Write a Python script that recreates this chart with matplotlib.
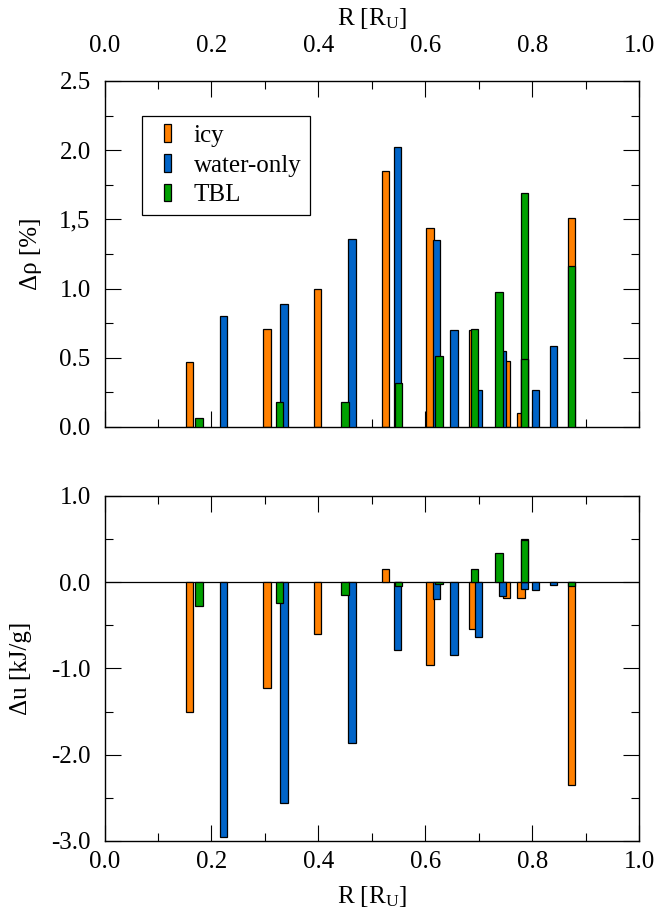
import matplotlib
matplotlib.use('Agg')
import matplotlib.pyplot as plt
from matplotlib.patches import Rectangle
from matplotlib.legend_handler import HandlerPatch
from matplotlib.ticker import MultipleLocator

plt.rcParams['font.family'] = ['Liberation Serif', 'DejaVu Serif']
plt.rcParams['mathtext.fontset'] = 'custom'
plt.rcParams['mathtext.rm'] = 'Liberation Serif'
plt.rcParams['mathtext.it'] = 'Liberation Serif:italic'

# ---------------- data ----------------
series_names = ['icy', 'water-only', 'TBL']
series_colors = ['#FF8000', '#0064C8', '#00A000']

icy_r = [0.159, 0.304, 0.398, 0.526, 0.609, 0.689, 0.752, 0.779, 0.873]
icy_drho = [0.47, 0.71, 1.00, 1.85, 1.44, 0.70, 0.48, 0.10, 1.51]
icy_du = [-1.51, -1.23, -0.60, 0.15, -0.96, -0.545, -0.185, -0.185, -2.35]

water_r = [0.222, 0.336, 0.463, 0.548, 0.621, 0.654, 0.699, 0.745, 0.786, 0.806, 0.840]
water_drho = [0.80, 0.89, 1.36, 2.02, 1.35, 0.70, 0.265, 0.546, 0.49, 0.27, 0.584]
water_du = [-2.95, -2.56, -1.86, -0.78, -0.19, -0.84, -0.64, -0.16, -0.075, -0.09, -0.035]

tbl_r = [0.177, 0.327, 0.450, 0.550, 0.626, 0.692, 0.738, 0.786, 0.786, 0.873]
tbl_drho = [0.067, 0.18, 0.18, 0.315, 0.51, 0.707, 0.973, 1.694, 0.49, 1.166]
tbl_du = [-0.274, -0.243, -0.15, -0.046, -0.02, 0.155, 0.34, 0.50, 0.49, -0.046]

x_ticks = [0.0, 0.2, 0.4, 0.6, 0.8, 1.0]
x_ticklabels = ['0.0', '0.2', '0.4', '0.6', '0.8', '1.0']
rho_ticks = [0.0, 0.5, 1.0, 1.5, 2.0, 2.5]
rho_ticklabels = ['0.0', '0.5', '1.0', '1,5', '2.0', '2.5']
u_ticks = [-3.0, -2.0, -1.0, 0.0, 1.0]
u_ticklabels = ['-3.0', '-2.0', '-1.0', '0.0', '1.0']

# ---------------- style ----------------
FS = 18
BAR_W = 0.0137
EDGE_LW = 0.9

fig = plt.figure(figsize=(6.57, 9.18), dpi=100)
ax1 = fig.add_axes([0.1591, 0.5349, 0.8136, 0.3769])
ax2 = fig.add_axes([0.1591, 0.0839, 0.8136, 0.3758])

all_r = [icy_r, water_r, tbl_r]
all_top = [icy_drho, water_drho, tbl_drho]
all_bot = [icy_du, water_du, tbl_du]

for i, (r, top, bot, c) in enumerate(zip(all_r, all_top, all_bot, series_colors)):
    ax1.bar(r, top, width=BAR_W, color=c, edgecolor='black', linewidth=EDGE_LW, zorder=2 + i)
    ax2.bar(r, bot, width=BAR_W, color=c, edgecolor='black', linewidth=EDGE_LW, zorder=2 + i)

ax2.axhline(0, color='black', lw=0.9, zorder=1.5)

for ax in (ax1, ax2):
    ax.set_xlim(0, 1)
    ax.set_xticks(x_ticks)
    ax.set_xticklabels(x_ticklabels)
    ax.xaxis.set_minor_locator(MultipleLocator(0.1))
    ax.tick_params(which='both', direction='in', top=True, bottom=True, left=True, right=True,
                   labelsize=FS, width=0.8)
    ax.tick_params(which='major', length=11.3)
    ax.tick_params(which='minor', length=5.5)
    ax.tick_params(axis='y', pad=10)
    for s in ax.spines.values():
        s.set_linewidth(1.0)

ax1.set_ylim(0, 2.5)
ax1.set_yticks(rho_ticks)
ax1.set_yticklabels(rho_ticklabels)
ax1.yaxis.set_minor_locator(MultipleLocator(0.25))
ax1.tick_params(axis='x', labeltop=True, labelbottom=False, pad=17)

ax2.set_ylim(-3, 1)
ax2.set_yticks(u_ticks)
ax2.set_yticklabels(u_ticklabels)
ax2.yaxis.set_minor_locator(MultipleLocator(0.5))
ax2.tick_params(axis='x', labeltop=False, labelbottom=True, pad=7)

ax1.set_xlabel(r'R [R$_\mathrm{U}$]', fontsize=FS)
ax1.xaxis.set_label_position('top')
ax1.xaxis.set_label_coords(0.5, 1.162)
ax1.set_ylabel('Δρ [%]', fontsize=FS)
ax1.yaxis.set_label_coords(-0.1175, 0.5)

ax2.set_xlabel(r'R [R$_\mathrm{U}$]', fontsize=FS)
ax2.xaxis.set_label_coords(0.5, -0.124)
ax2.set_ylabel('Δu [kJ/g]', fontsize=FS)
ax2.yaxis.set_label_coords(-0.136, 0.5)


class NarrowBar(HandlerPatch):
    def create_artists(self, legend, orig_handle, xdescent, ydescent, width, height,
                       fontsize, trans):
        w = 5.0
        p = Rectangle((width - xdescent - w, -ydescent), w, height,
                      facecolor=orig_handle.get_facecolor(), edgecolor='black', lw=EDGE_LW)
        p.set_transform(trans)
        return [p]


proxies = [Rectangle((0, 0), 1, 1, facecolor=c) for c in series_colors]
leg = ax1.legend(proxies, series_names, loc='upper left', bbox_to_anchor=(0.0707, 0.9),
                 borderaxespad=0, borderpad=0.35, handlelength=0.78, handleheight=0.72,
                 handletextpad=0.92, labelspacing=0.28, fontsize=FS, frameon=True,
                 fancybox=False, edgecolor='black', framealpha=1,
                 handler_map={Rectangle: NarrowBar()})
leg.get_frame().set_linewidth(0.9)

fig.savefig('out.png', dpi=100)
